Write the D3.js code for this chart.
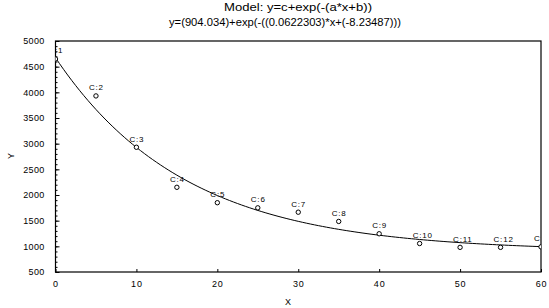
<!DOCTYPE html>
<html><head><meta charset="utf-8">
<script src="https://cdn.jsdelivr.net/npm/d3@7"></script>
<style>body{margin:0;background:#fff}svg{display:block}text{font-family:"Liberation Sans",Arial,sans-serif;fill:#000}</style>
</head><body><svg id="c" width="549" height="308"></svg>
<script>
const xValues = [0,5,10,15,20,25,30,35,40,45,50,55,60];
const yValues = [4650,3930,2930,2150,1850,1750,1665,1485,1245,1055,980,980,990];
const pointLabels = ["C:1","C:2","C:3","C:4","C:5","C:6","C:7","C:8","C:9","C:10","C:11","C:12","C:13"];
const xTicks = [0,10,20,30,40,50,60];
const yTicks = [500,1000,1500,2000,2500,3000,3500,4000,4500,5000];
const modelA = 0.0622303, modelB = -8.23487, modelC = 904.034;
const title1 = "Model: y=c+exp(-(a*x+b))";
const title2 = "y=(904.034)+exp(-((0.0622303)*x+(-8.23487)))";

const svg = d3.select("#c");
const L=55.5, R=541, T=41, B=272;
const x = d3.scaleLinear().domain([0,60]).range([L,R]);
const y = d3.scaleLinear().domain([500,5000]).range([B,T]);

svg.append("text").attr("x",224).attr("y",11).attr("font-size",10)
  .attr("textLength",148).attr("lengthAdjust","spacingAndGlyphs").text(title1);
svg.append("text").attr("x",169).attr("y",26).attr("font-size",10)
  .attr("textLength",232).attr("lengthAdjust","spacingAndGlyphs").text(title2);

svg.append("defs").append("clipPath").attr("id","clip")
  .append("rect").attr("x",L).attr("y",T).attr("width",R-L).attr("height",B-T);

// axes
const xAxis = d3.axisBottom(x).tickValues(xTicks).tickSize(-3).tickPadding(9).tickSizeOuter(0).tickFormat(d3.format("d"));
const gx = svg.append("g").attr("transform",`translate(0,${B})`).call(xAxis);
gx.select(".domain").remove();
gx.selectAll("text").attr("font-size",9).style("letter-spacing","0.8px").attr("font-family",null);
gx.selectAll("line").attr("stroke","#000");

const yMinor = d3.range(500,5001,100);
const gym = svg.append("g").attr("transform",`translate(${L},0)`)
  .call(d3.axisLeft(y).tickValues(yMinor).tickSize(-2).tickFormat(""));
gym.select(".domain").remove();
const gy = svg.append("g").attr("transform",`translate(${L},0)`)
  .call(d3.axisLeft(y).tickValues(yTicks).tickSize(-4).tickPadding(11).tickFormat(d3.format("d")));
gy.select(".domain").remove();
gy.selectAll("text").attr("font-size",9).style("letter-spacing","0.3px").attr("font-family",null);

svg.append("rect").attr("x",L).attr("y",T).attr("width",R-L).attr("height",B-T)
  .attr("fill","none").attr("stroke","#000").attr("stroke-width",1.2);

svg.append("text").attr("x",288).attr("y",305).attr("font-size",9).attr("text-anchor","middle").text("X");
svg.append("text").attr("transform","translate(14,156) rotate(-90)").attr("font-size",9).attr("text-anchor","middle").text("Y");

const plot = svg.append("g").attr("clip-path","url(#clip)");
const curveX = d3.range(0,60.01,0.5);
plot.append("path").datum(curveX)
  .attr("d",d3.line().x(d=>x(d)).y(d=>y(modelC+Math.exp(-(modelA*d+modelB)))))
  .attr("fill","none").attr("stroke","#000").attr("stroke-width",1);

const pts = xValues.map((v,i)=>({x:v,y:yValues[i],l:pointLabels[i]}));
plot.selectAll("circle").data(pts).join("circle")
  .attr("cx",d=>x(d.x)).attr("cy",d=>y(d.y)).attr("r",2.2)
  .attr("fill","#fff").attr("stroke","#000").attr("stroke-width",1);
plot.selectAll("text.pl").data(pts).join("text").attr("class","pl")
  .attr("x",d=>x(d.x)-7).attr("y",d=>y(d.y)-5.5).attr("font-size",8)
  .style("letter-spacing","0.8px").text(d=>d.l);
</script></body></html>
